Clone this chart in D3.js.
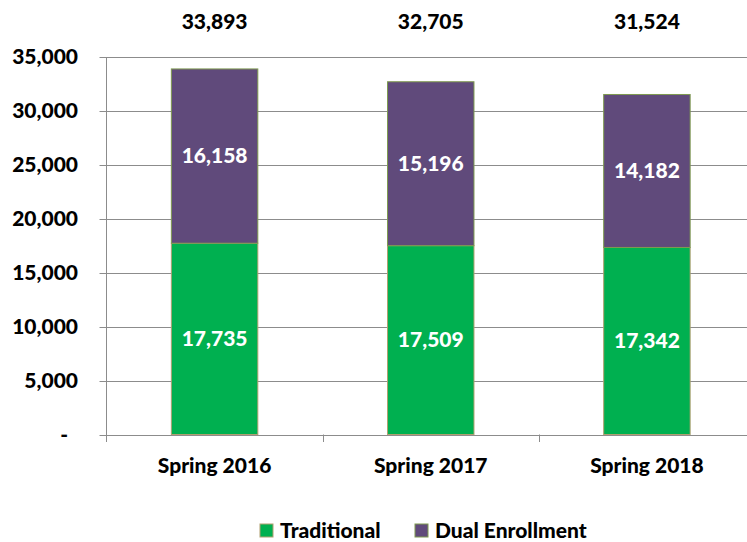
<!DOCTYPE html>
<html>
<head>
<meta charset="utf-8">
<script src="https://cdn.jsdelivr.net/npm/d3@7"></script>
<style>
  body { margin: 0; background: white; }
  text { font-family: 'Lato', 'Open Sans', sans-serif; font-weight: 900; }
</style>
</head>
<body>
<div class="canvas"></div>
<script>
// data
const categories = ["Spring 2016", "Spring 2017", "Spring 2018"];
const traditional = [17735, 17509, 17342];
const dualEnrollment = [16158, 15196, 14182];
const totals = [33893, 32705, 31524];
const yTicks = [0, 5000, 10000, 15000, 20000, 25000, 30000, 35000];
const seriesNames = ["Traditional", "Dual Enrollment"];
const colors = ["#00B050", "#604A7B"];
const strokes = ["#b0a070", "#7f9a50"];

const width = 747, height = 542;
const fmt = d3.format(",");

const svg = d3.select('.canvas')
  .append('svg')
    .attr('width', width)
    .attr('height', height)
    .style("background-color", "white");

// scales
const y = d3.scaleLinear().domain([0, 35000]).range([434.5, 57]);
const xCat = d3.scaleBand().domain(categories).range([106.5, 755]).padding(0);

// gridlines
svg.append("g")
  .selectAll("line")
  .data(yTicks)
  .join("line")
    .attr("x1", 99.5)
    .attr("x2", 755)
    .attr("y1", d => Math.round(y(d)) + 0.5)
    .attr("y2", d => Math.round(y(d)) + 0.5)
    .attr("stroke", "#8c8c8c")
    .attr("stroke-width", 1);

// y tick labels
svg.append("g")
  .selectAll("text")
  .data(yTicks)
  .join("text")
    .attr("x", d => d === 0 ? 68 : 78)
    .attr("y", d => y(d))
    .attr("dy", "0.35em")
    .attr("text-anchor", "end")
    .style("font-size", "21px")
    .style("fill", "#000")
    .text(d => d === 0 ? "-" : fmt(d));

// stacked data
const stackData = categories.map((c, i) => ({cat: c, Traditional: traditional[i], "Dual Enrollment": dualEnrollment[i]}));
const stacked = d3.stack().keys(seriesNames)(stackData);

const barW = xCat.bandwidth() * 0.4;
const barX = c => xCat(c) + (xCat.bandwidth() - barW) / 2;

stacked.forEach((layer, li) => {
  svg.append("g")
    .selectAll("rect")
    .data(layer)
    .join("rect")
      .attr("x", d => barX(d.data.cat))
      .attr("y", d => y(d[1]))
      .attr("width", barW)
      .attr("height", d => y(d[0]) - y(d[1]))
      .attr("fill", colors[li])
      .attr("stroke", strokes[li])
      .attr("stroke-width", 1);

  // segment labels
  svg.append("g")
    .selectAll("text")
    .data(layer)
    .join("text")
      .attr("x", d => barX(d.data.cat) + barW / 2)
      .attr("y", d => y((d[0] + d[1]) / 2))
      .attr("dy", "0.35em")
      .attr("text-anchor", "middle")
      .style("font-size", "21px")
      .style("fill", "white")
      .text(d => fmt(d[1] - d[0]));
});

// axis lines
svg.append("line")
  .attr("x1", 106.5).attr("x2", 106.5)
  .attr("y1", 57).attr("y2", 442)
  .attr("stroke", "#8c8c8c");

svg.append("g")
  .selectAll("line")
  .data(categories.slice(1))
  .join("line")
    .attr("x1", d => Math.round(xCat(d)) + 0.5)
    .attr("x2", d => Math.round(xCat(d)) + 0.5)
    .attr("y1", 434.5)
    .attr("y2", 442)
    .attr("stroke", "#8c8c8c");

// category labels
svg.append("g")
  .selectAll("text")
  .data(categories)
  .join("text")
    .attr("x", d => xCat(d) + xCat.bandwidth() / 2)
    .attr("y", 466)
    .attr("dy", "0.35em")
    .attr("text-anchor", "middle")
    .style("font-size", "21px")
    .style("fill", "#000")
    .text(d => d);

// totals above bars
svg.append("g")
  .selectAll("text")
  .data(totals)
  .join("text")
    .attr("x", (d, i) => xCat(categories[i]) + xCat.bandwidth() / 2)
    .attr("y", 22)
    .attr("dy", "0.35em")
    .attr("text-anchor", "middle")
    .style("font-size", "21px")
    .style("fill", "#000")
    .text(d => fmt(d));

// legend
const legendX = [260, 415];
const legend = svg.append("g")
  .selectAll("g")
  .data(seriesNames)
  .join("g")
    .attr("transform", (d, i) => `translate(${legendX[i]}, 524)`);

legend.append("rect")
  .attr("width", 13)
  .attr("height", 13)
  .attr("fill", (d, i) => colors[i])
  .attr("stroke", (d, i) => strokes[i]);

legend.append("text")
  .attr("x", 20)
  .attr("y", 6.5)
  .attr("dy", "0.35em")
  .style("font-size", "21px")
  .style("fill", "#000")
  .text(d => d);
</script>
</body>
</html>
